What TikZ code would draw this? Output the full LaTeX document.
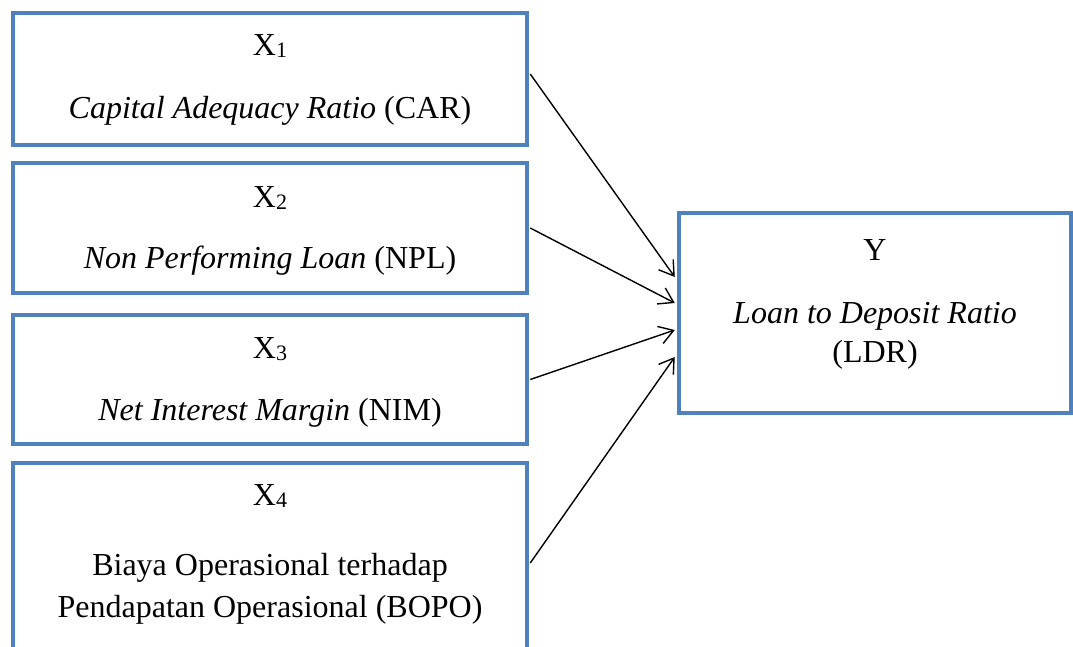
\documentclass[tikz,border=0pt]{standalone}
\usepackage{fontspec}
\setmainfont{Liberation Serif}
\usetikzlibrary{arrows.meta}
\definecolor{boxblue}{HTML}{4F81BD}
\newcommand{\sbx}[1]{\raisebox{-2.5pt}{\fontsize{22}{22}\selectfont #1}}
\begin{document}
\begin{tikzpicture}[x=1pt,y=-1pt,
  varbox/.style={draw=boxblue,line width=4.5pt,rectangle,inner sep=0pt,minimum width=514pt},
  ybox/.style={draw=boxblue,line width=4.5pt,rectangle,inner sep=0pt,minimum width=392pt,minimum height=200pt},
  lbl/.style={anchor=base,inner sep=0pt,font=\fontsize{32}{40}\selectfont},
  arr/.style={draw=black,line width=1.4pt,-{Straight Barb[length=14pt,width=18pt,line width=1.4pt]}}]
\useasboundingbox (0,0) rectangle (1073,646);
\fill[white] (0,0) rectangle (1073,646);
% boxes
\node[varbox,minimum height=132pt] (b1) at (270,79) {};
\node[varbox,minimum height=130pt] (b2) at (270,228) {};
\node[varbox,minimum height=129pt] (b3) at (270,379.5) {};
\node[varbox,minimum height=200pt] (b4) at (270,563) {};
\node[ybox] (y) at (875,313) {};
% labels
\node[lbl] (t1a) at (270,55) {X\sbx{1}};
\node[lbl] (t1b) at (270,118) {\textit{Capital Adequacy Ratio} (CAR)};
\node[lbl] (t2a) at (270,207) {X\sbx{2}};
\node[lbl] (t2b) at (270,268) {\textit{Non Performing Loan} (NPL)};
\node[lbl] (t3a) at (270,358) {X\sbx{3}};
\node[lbl] (t3b) at (270,420) {\textit{Net Interest Margin} (NIM)};
\node[lbl] (t4a) at (270,505) {X\sbx{4}};
\node[lbl] (t4b) at (270,575) {Biaya Operasional terhadap};
\node[lbl] (t4c) at (270,617) {Pendapatan Operasional (BOPO)};
\node[lbl] (tya) at (875,260) {Y};
\node[lbl] (tyb) at (875,323) {\textit{Loan to Deposit Ratio}};
\node[lbl] (tyc) at (875,362) {(LDR)};
% connectors
\draw[arr] ([xshift=1pt,yshift=5pt]b1.east) -- ([xshift=-2pt,yshift=36pt]y.west);
\draw[arr] ([xshift=1pt]b2.east) -- ([xshift=-2pt,yshift=10pt]y.west);
\draw[arr] ([xshift=1pt]b3.east) -- ([xshift=-2pt,yshift=-17pt]y.west);
\draw[arr] ([xshift=1pt]b4.east) -- ([xshift=-2pt,yshift=-44pt]y.west);
\end{tikzpicture}
\end{document}
